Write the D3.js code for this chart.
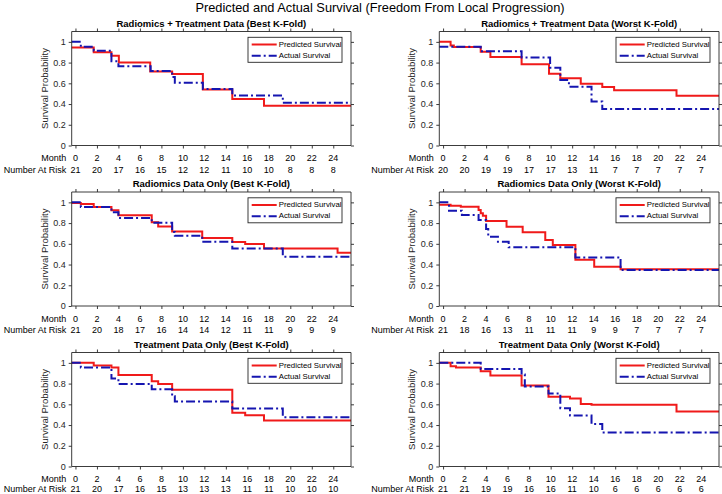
<!DOCTYPE html>
<html>
<head>
<meta charset="utf-8">
<script src="https://cdn.jsdelivr.net/npm/d3@7"></script>
<style>
  html, body { margin: 0; padding: 0; background: #fff; }
  svg { display: block; font-family: "Liberation Sans", Arial, Helvetica, sans-serif; }
</style>
</head>
<body>
<svg id="chart" width="722" height="494"></svg>
<script>
// ---------------- DATA ----------------
const mainTitle = "Predicted and Actual Survival (Freedom From Local Progression)";
const panelTitles = [
  "Radiomics + Treatment Data (Best K-Fold)",
  "Radiomics + Treatment Data (Worst K-Fold)",
  "Radiomics Data Only (Best K-Fold)",
  "Radiomics Data Only (Worst K-Fold)",
  "Treatment Data Only (Best K-Fold)",
  "Treatment Data Only (Worst K-Fold)"
];
const legendLabels = ["Predicted Survival", "Actual Survival"];
const yTicks = [0, 0.2, 0.4, 0.6, 0.8, 1];
const monthTicks = [0, 2, 4, 6, 8, 10, 12, 14, 16, 18, 20, 22, 24];
const monthLabel = "Month";
const riskLabel = "Number At Risk";

// Number at risk per panel
const riskRT_best  = [21, 20, 17, 16, 15, 12, 12, 11, 10, 10, 8, 8, 8];
const riskRT_worst = [20, 20, 19, 19, 17, 17, 13, 11, 7, 7, 7, 7, 7];
const riskR_best   = [21, 20, 18, 17, 16, 14, 14, 12, 11, 11, 9, 9, 9];
const riskR_worst  = [21, 18, 16, 13, 11, 11, 11, 9, 9, 7, 7, 7, 7];
const riskT_best   = [21, 20, 17, 16, 15, 13, 13, 13, 11, 11, 10, 10, 10];
const riskT_worst  = [21, 21, 19, 19, 16, 16, 11, 10, 6, 6, 6, 6, 6];

// Step curves: times of drops (months) and survival values (first = initial level)
const predRT_best_t = [1.7, 3.35, 4.04, 6.96, 9.0, 11.86, 14.6, 17.55];
const predRT_best_s = [0.946, 0.900, 0.867, 0.800, 0.714, 0.690, 0.540, 0.448, 0.384];
const actRT_best_t  = [0.5, 1.7, 3.35, 4.0, 7.0, 9.0, 9.25, 11.86, 14.6, 19.3];
const actRT_best_s  = [1.0, 0.952, 0.914, 0.813, 0.765, 0.720, 0.660, 0.605, 0.545, 0.482, 0.413];

const predRT_worst_t = [0.7, 1.0, 3.5, 4.4, 7.3, 9.85, 10.9, 12.8, 14.8, 15.9, 21.7];
const predRT_worst_s = [1.0, 0.965, 0.950, 0.905, 0.855, 0.785, 0.692, 0.650, 0.597, 0.565, 0.533, 0.480];
const actRT_worst_t  = [3.5, 7.3, 9.95, 10.9, 11.7, 13.8, 14.8];
const actRT_worst_s  = [0.952, 0.910, 0.848, 0.750, 0.632, 0.568, 0.425, 0.352];

const predR_best_t = [0.5, 1.7, 3.35, 4.0, 7.1, 7.7, 9.0, 11.8, 14.6, 15.8, 17.55, 24.4];
const predR_best_s = [0.995, 0.985, 0.955, 0.923, 0.875, 0.807, 0.768, 0.720, 0.655, 0.617, 0.598, 0.556, 0.514];
const actR_best_t  = [0.5, 3.35, 4.0, 7.1, 9.0, 9.25, 11.8, 14.6, 19.3];
const actR_best_s  = [1.0, 0.955, 0.905, 0.849, 0.804, 0.715, 0.678, 0.620, 0.556, 0.476];

const predR_worst_t = [0.7, 1.65, 3.3, 3.5, 3.7, 4.0, 5.9, 7.4, 9.5, 10.2, 12.3, 14.05, 16.5];
const predR_worst_s = [0.977, 0.968, 0.958, 0.926, 0.895, 0.870, 0.820, 0.765, 0.711, 0.637, 0.588, 0.447, 0.379, 0.354];
const actR_worst_t  = [0.55, 1.75, 3.3, 4.0, 4.2, 5.1, 6.1, 12.3, 16.5];
const actR_worst_s  = [1.0, 0.920, 0.878, 0.830, 0.743, 0.669, 0.620, 0.566, 0.469, 0.347];

const predT_best_t = [1.7, 3.35, 4.0, 7.1, 7.7, 9.0, 14.6, 15.8, 17.55];
const predT_best_s = [1.0, 0.975, 0.955, 0.884, 0.823, 0.797, 0.740, 0.518, 0.495, 0.444];
const actT_best_t  = [0.5, 3.35, 4.0, 7.1, 9.0, 9.25, 14.6, 19.3];
const actT_best_s  = [1.0, 0.955, 0.849, 0.797, 0.746, 0.678, 0.627, 0.560, 0.476];

const predT_worst_t = [0.7, 1.2, 3.5, 4.4, 7.3, 9.8, 11.8, 12.8, 13.8, 21.7];
const predT_worst_s = [1.0, 0.968, 0.955, 0.920, 0.878, 0.781, 0.672, 0.656, 0.604, 0.597, 0.530];
const actT_worst_t  = [3.5, 7.3, 7.6, 9.8, 10.9, 11.8, 13.8, 14.8];
const actT_worst_s  = [1.0, 0.942, 0.887, 0.772, 0.704, 0.563, 0.492, 0.410, 0.328];

// ---------------- LAYOUT ----------------
const panels = [
  {title: panelTitles[0], risk: riskRT_best,  pred: [predRT_best_t, predRT_best_s],   act: [actRT_best_t, actRT_best_s]},
  {title: panelTitles[1], risk: riskRT_worst, pred: [predRT_worst_t, predRT_worst_s], act: [actRT_worst_t, actRT_worst_s]},
  {title: panelTitles[2], risk: riskR_best,   pred: [predR_best_t, predR_best_s],     act: [actR_best_t, actR_best_s]},
  {title: panelTitles[3], risk: riskR_worst,  pred: [predR_worst_t, predR_worst_s],   act: [actR_worst_t, actR_worst_s]},
  {title: panelTitles[4], risk: riskT_best,   pred: [predT_best_t, predT_best_s],     act: [actT_best_t, actT_best_s]},
  {title: panelTitles[5], risk: riskT_worst,  pred: [predT_worst_t, predT_worst_s],   act: [actT_worst_t, actT_worst_s]}
];

const colX = [[71.7, 351], [439.3, 719]];
const rowBottom = [145.5, 306, 466.5];
const axH = 114;
const axisColor = "#262626";
const redColor = "#f01a1a";
const blueColor = "#1515b0";

const svg = d3.select("#chart");

svg.append("text")
  .attr("x", 380).attr("y", 12)
  .attr("text-anchor", "middle")
  .attr("font-size", 12.8).attr("fill", "#000")
  .text(mainTitle);

function stepPoints(t, s, x) {
  const [d0, d1] = x.domain();
  const pts = [[d0, s[0]]];
  t.forEach((ti, i) => pts.push([ti, s[i + 1]]));
  pts.push([d1, s[s.length - 1]]);
  return pts;
}

panels.forEach((p, i) => {
  const col = i % 2, row = Math.floor(i / 2);
  const [x0, x1] = colX[col];
  const yb = rowBottom[row], yt = yb - axH;

  const x = d3.scaleLinear().domain([-0.35, 25.65]).range([x0, x1]);
  const y = d3.scaleLinear().domain([0, 1.1]).range([yb, yt]);

  const g = svg.append("g");

  g.append("rect").attr("x", x0).attr("y", yt).attr("width", x1 - x0).attr("height", axH)
    .attr("fill", "#fff");

  // curves
  const line = d3.line().x(d => x(d[0])).y(d => y(d[1])).curve(d3.curveStepAfter);
  g.append("path").datum(stepPoints(p.pred[0], p.pred[1], x))
    .attr("d", line).attr("fill", "none").attr("stroke", redColor).attr("stroke-width", 2);
  g.append("path").datum(stepPoints(p.act[0], p.act[1], x))
    .attr("d", line).attr("fill", "none").attr("stroke", blueColor).attr("stroke-width", 2)
    .attr("stroke-dasharray", "9,3,2,3");

  // axes (ticks outward on all sides, box)
  const axL = g.append("g").attr("transform", `translate(${x0},0)`)
    .call(d3.axisLeft(y).tickValues(yTicks).tickSize(3).tickPadding(3)
      .tickFormat(d => d3.format("~g")(d)));
  const axR = g.append("g").attr("transform", `translate(${x1},0)`)
    .call(d3.axisRight(y).tickValues(yTicks).tickSize(3).tickFormat(""));
  const axB = g.append("g").attr("transform", `translate(0,${yb})`)
    .call(d3.axisBottom(x).tickValues(monthTicks).tickSize(3).tickFormat(""));
  const axT = g.append("g").attr("transform", `translate(0,${yt})`)
    .call(d3.axisTop(x).tickValues(monthTicks).tickSize(3).tickFormat(""));
  [axL, axR, axB, axT].forEach(a => {
    a.select(".domain").attr("stroke", axisColor).attr("stroke-width", 0.9);
    a.selectAll(".tick line").attr("stroke", axisColor).attr("stroke-width", 0.9);
    a.selectAll("text").attr("fill", axisColor).attr("font-size", 9)
      .attr("font-family", "Liberation Sans, Arial, sans-serif");
  });
  axL.selectAll(".domain").attr("d", `M0,${yt}V${yb}`);
  axR.selectAll(".domain").attr("d", `M0,${yt}V${yb}`);
  axB.selectAll(".domain").attr("d", `M${x0},0H${x1}`);
  axT.selectAll(".domain").attr("d", `M${x0},0H${x1}`);

  // y label
  g.append("text")
    .attr("transform", `translate(${x0 - 26.5},${(yt + yb) / 2}) rotate(-90)`)
    .attr("text-anchor", "middle").attr("dominant-baseline", "middle")
    .attr("font-size", 9.5).attr("fill", axisColor)
    .text("Survival Probability");

  // panel title
  g.append("text")
    .attr("x", (x0 + x1) / 2).attr("y", yt - 7.5)
    .attr("text-anchor", "middle").attr("dominant-baseline", "middle")
    .attr("font-size", 9.5).attr("font-weight", "bold").attr("fill", "#000")
    .text(p.title);

  // month row & number at risk row
  const monthY = yb + 13.2;
  const riskY = row === 2 ? yb + 22.8 : yb + 24.8;
  g.append("text").attr("x", x0 - 5.5).attr("y", monthY)
    .attr("text-anchor", "end").attr("dominant-baseline", "middle")
    .attr("font-size", 9).attr("fill", "#000").text(monthLabel);
  g.append("text").attr("x", x0 - 5.5).attr("y", riskY)
    .attr("text-anchor", "end").attr("dominant-baseline", "middle")
    .attr("font-size", 9).attr("fill", "#000").text(riskLabel);
  g.selectAll(".mlab").data(monthTicks).enter().append("text")
    .attr("x", d => x(d)).attr("y", monthY)
    .attr("text-anchor", "middle").attr("dominant-baseline", "middle")
    .attr("font-size", 9).attr("fill", "#000").text(d => d);
  g.selectAll(".rlab").data(p.risk).enter().append("text")
    .attr("x", (d, k) => x(monthTicks[k])).attr("y", riskY)
    .attr("text-anchor", "middle").attr("dominant-baseline", "middle")
    .attr("font-size", 9).attr("fill", "#000").text(d => d);

  // legend
  const lw = 94, lh = 25;
  const lx = x1 - 9 - lw, ly = yt + 5.8;
  const lg = g.append("g").attr("transform", `translate(${lx},${ly})`);
  lg.append("rect").attr("width", lw).attr("height", lh)
    .attr("fill", "#fff").attr("stroke", axisColor).attr("stroke-width", 0.9);
  const items = [
    {label: legendLabels[0], color: redColor, dash: null},
    {label: legendLabels[1], color: blueColor, dash: "9,3,2,3"}
  ];
  items.forEach((it, k) => {
    const cy = 7.2 + k * 11.3;
    const ln = lg.append("line").attr("x1", 3.7).attr("x2", 28.7).attr("y1", cy).attr("y2", cy)
      .attr("stroke", it.color).attr("stroke-width", 2);
    if (it.dash) ln.attr("stroke-dasharray", it.dash);
    lg.append("text").attr("x", 30.7).attr("y", cy)
      .attr("dominant-baseline", "middle").attr("font-size", 7.8).attr("fill", "#000")
      .text(it.label);
  });
});
</script>
</body>
</html>
